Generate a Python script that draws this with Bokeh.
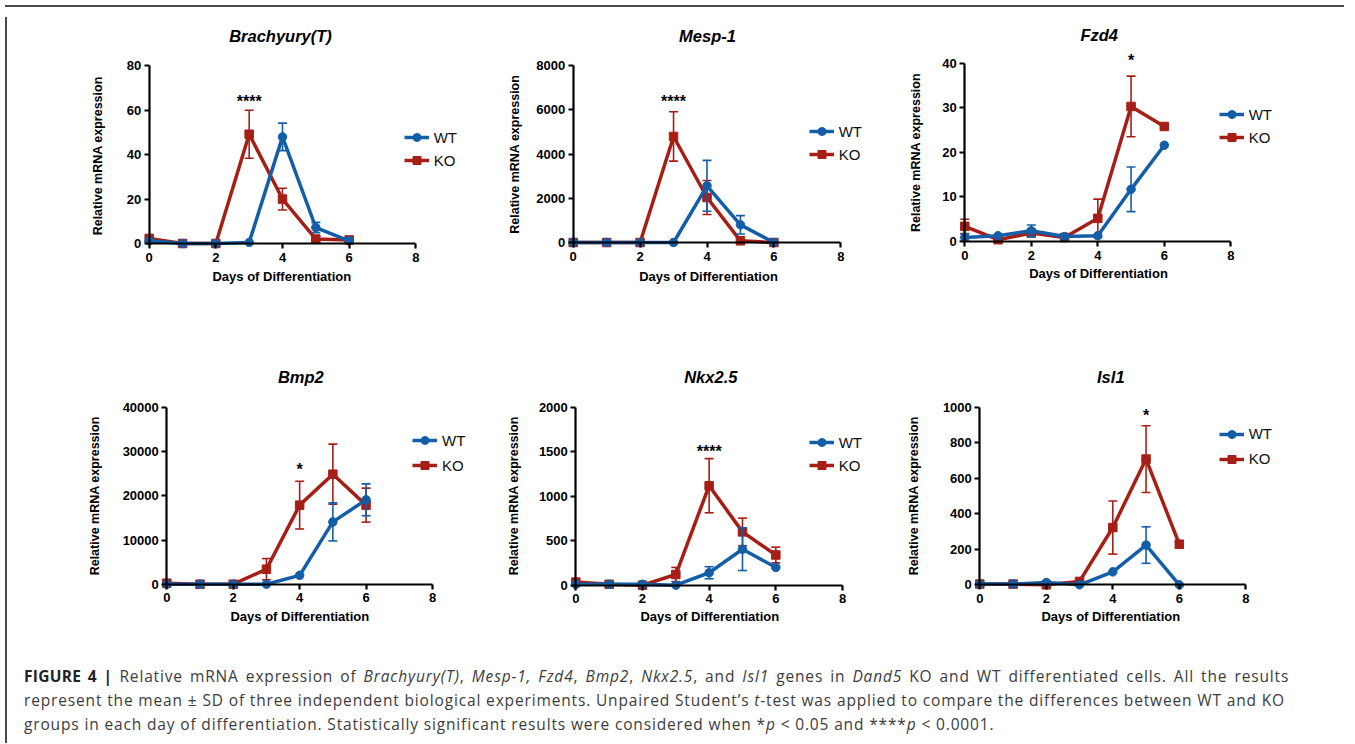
import math
from bokeh.plotting import figure
from bokeh.models import Range1d, FixedTicker, Label, Legend, LegendItem, Div, ColumnDataSource
from bokeh.layouts import row, column
from bokeh.embed import file_html
from bokeh.resources import INLINE

# ---------------- data ----------------
days = [0, 1, 2, 3, 4, 5, 6]
x_ticks = [0, 2, 4, 6, 8]

genes = ["Brachyury(T)", "Mesp-1", "Fzd4", "Bmp2", "Nkx2.5", "Isl1"]
y_max = [80, 8000, 40, 40000, 2000, 1000]
y_step = [20, 2000, 10, 10000, 500, 200]

wt_brachyury = [1.2, 0, 0, 0.5, 48.0, 7.2, 1.2]
wt_brachyury_sd = [0, 0, 0, 0, 6.2, 2.3, 0]
ko_brachyury = [2.3, 0, 0, 49.2, 20.0, 2.0, 1.6]
ko_brachyury_sd = [0, 0, 0, 10.8, 4.9, 0, 0.7]

wt_mesp1 = [0, 0, 0, 0, 2566, 800, 0]
wt_mesp1_sd = [0, 0, 0, 0, 1150, 415, 0]
ko_mesp1 = [0, 0, 0, 4800, 2038, 75, 0]
ko_mesp1_sd = [0, 0, 0, 1117, 770, 0, 0]

wt_fzd4 = [0.9, 1.3, 2.4, 1.1, 1.3, 11.7, 21.6]
wt_fzd4_sd = [0.8, 0, 1.3, 0, 0, 5.0, 0]
ko_fzd4 = [3.4, 0.4, 1.9, 0.9, 5.2, 30.3, 25.8]
ko_fzd4_sd = [1.6, 0, 0.5, 0, 4.3, 6.8, 0]

wt_bmp2 = [0, 0, 0, 0, 2000, 14100, 19100]
wt_bmp2_sd = [0, 0, 0, 0, 0, 4300, 3600]
ko_bmp2 = [230, 0, 0, 3400, 17900, 24900, 17900]
ko_bmp2_sd = [0, 0, 0, 2400, 5400, 6800, 3850]

wt_nkx25 = [10, 10, 10, 0, 140, 405, 200]
wt_nkx25_sd = [0, 0, 0, 0, 68, 240, 0]
ko_nkx25 = [35, 10, 0, 120, 1120, 600, 340]
ko_nkx25_sd = [0, 0, 0, 80, 305, 155, 88]

wt_isl1 = [4, 4, 13, 0, 73, 224, 0]
wt_isl1_sd = [0, 0, 0, 0, 0, 103, 0]
ko_isl1 = [4, 4, 0, 19, 323, 709, 229]
ko_isl1_sd = [0, 0, 0, 0, 150, 188, 0]

star_day = [3, 3, 5, 4, 4, 5]
star_value = [64, 6400, 40.7, 26000, 1510, 953]
star_text = ["****", "****", "*", "*", "****", "*"]

wt_series = [wt_brachyury, wt_mesp1, wt_fzd4, wt_bmp2, wt_nkx25, wt_isl1]
wt_sds = [wt_brachyury_sd, wt_mesp1_sd, wt_fzd4_sd, wt_bmp2_sd, wt_nkx25_sd, wt_isl1_sd]
ko_series = [ko_brachyury, ko_mesp1, ko_fzd4, ko_bmp2, ko_nkx25, ko_isl1]
ko_sds = [ko_brachyury_sd, ko_mesp1_sd, ko_fzd4_sd, ko_bmp2_sd, ko_nkx25_sd, ko_isl1_sd]

x_label = "Days of Differentiation"
y_label = "Relative mRNA expression"

# ---------------- layout (page pixels) ----------------
# figure box: left, top, width, height ; axis pixels: x=0, x=8, y=0, y=max
PANEL_BOX = [
    (10, 10, 490, 310, 146.7, 413.3, 241.0, 63.3),
    (500, 10, 400, 310, 570.7, 838.3, 240.0, 63.3),
    (900, 10, 447, 310, 962.3, 1228.3, 239.0, 60.7),
    (10, 320, 490, 320, 164.3, 430.0, 581.7, 405.0),
    (500, 320, 400, 320, 573.3, 840.0, 582.7, 405.0),
    (900, 320, 447, 320, 977.3, 1243.3, 582.3, 405.0),
]
# title centre, y-label centre, x-label centre, legend line-left, WT row y, KO row y
ANNOT = [
    ((278.0, 37.0), (97.3, 153.3), (279.3, 276.7), 401.7, 135.0, 158.0),
    ((705.0, 37.3), (514.0, 151.7), (706.0, 276.7), 806.7, 129.3, 152.3),
    ((1096.7, 36.7), (915.0, 150.0), (1096.0, 274.0), 1216.7, 111.7, 135.0),
    ((298.3, 378.3), (94.0, 493.3), (297.3, 617.3), 410.0, 438.3, 463.3),
    ((708.3, 378.3), (513.3, 493.3), (707.3, 617.3), 806.7, 440.0, 463.3),
    ((1108.3, 378.3), (913.3, 493.3), (1108.3, 617.3), 1216.7, 431.7, 456.7),
]

WT_COLOR = "#145ea8"
KO_COLOR = "#a61f17"
FONT = "Liberation Sans"


def add_series(p, y, sd, color, marker):
    ex = [d for d, s in zip(days, sd) if s > 0]
    lo = [v - s for v, s in zip(y, sd) if s > 0]
    hi = [v + s for v, s in zip(y, sd) if s > 0]
    if ex:
        src = ColumnDataSource(dict(x=ex, lo=lo, hi=hi))
        p.segment(x0="x", y0="lo", x1="x", y1="hi", source=src, line_color=color, line_width=1.6)
        p.scatter(x="x", y="hi", source=src, marker="dash", size=9, line_color=color, line_width=1.6)
        p.scatter(x="x", y="lo", source=src, marker="dash", size=9, line_color=color, line_width=1.6)
    src = ColumnDataSource(dict(x=days, y=y))
    ln = p.line(x="x", y="y", source=src, line_color=color, line_width=3.5, line_join="round")
    pts = p.scatter(x="x", y="y", source=src, marker=marker, size=8.5, fill_color=color, line_color=color)
    return ln, pts


def make_panel(i):
    L, T, W, H, x0, x8, y0, ytop = PANEL_BOX[i]
    kx = (x8 - x0) / 8.0
    ky = (y0 - ytop) / y_max[i]
    X = lambda px: (px - x0) / kx
    Y = lambda py: (y0 - py) / ky
    p = figure(width=W, height=H,
               x_range=Range1d((L - x0) / kx, (L + W - x0) / kx),
               y_range=Range1d(-(T + H - y0) / ky, (y0 - T) / ky),
               output_backend="svg", toolbar_location=None, title=None,
               min_border=0, min_border_left=0, min_border_right=0,
               min_border_top=0, min_border_bottom=0)
    p.outline_line_color = None
    p.xgrid.visible = False
    p.ygrid.visible = False
    p.background_fill_color = "white"
    p.border_fill_color = "white"

    for ax in (p.xaxis[0], p.yaxis[0]):
        ax.fixed_location = 0
        ax.axis_line_width = 2.2
        ax.axis_line_color = "black"
        ax.major_tick_line_width = 2.2
        ax.major_tick_line_color = "black"
        ax.major_tick_out = 5
        ax.major_tick_in = 0
        ax.minor_tick_out = 0
        ax.minor_tick_in = 0
        ax.major_label_text_font = FONT
        ax.major_label_text_font_style = "bold"
        ax.major_label_text_font_size = "13px"
        ax.major_label_text_color = "black"
    p.xaxis[0].ticker = FixedTicker(ticks=x_ticks)
    p.xaxis[0].bounds = (0, 8)
    p.xaxis[0].major_label_standoff = 4
    yt = [k * y_step[i] for k in range(int(round(y_max[i] / y_step[i])) + 1)]
    p.yaxis[0].ticker = FixedTicker(ticks=yt)
    p.yaxis[0].bounds = (0, y_max[i])
    p.yaxis[0].major_label_standoff = 3

    ko_ln, ko_pts = add_series(p, ko_series[i], ko_sds[i], KO_COLOR, "square")
    wt_ln, wt_pts = add_series(p, wt_series[i], wt_sds[i], WT_COLOR, "circle")

    (tx, ty), (ylx, yly), (xlx, xly), leg_left, wt_y, ko_y = ANNOT[i]
    p.add_layout(Label(x=X(tx), y=Y(ty), text=genes[i], text_font=FONT, y_offset=4,
                       text_font_style="bold italic", text_font_size="16.5px",
                       text_align="center", text_baseline="middle", text_color="black"))
    p.add_layout(Label(x=X(ylx), y=Y(yly), text=y_label, angle=math.pi / 2, text_font=FONT,
                       text_font_style="bold", text_font_size="12.5px", x_offset=-2,
                       text_align="center", text_baseline="middle", text_color="black"))
    p.add_layout(Label(x=X(xlx), y=Y(xly), text=x_label, text_font=FONT, y_offset=3,
                       text_font_style="bold", text_font_size="13px",
                       text_align="center", text_baseline="middle", text_color="black"))
    p.add_layout(Label(x=star_day[i], y=star_value[i], text=star_text[i], text_font=FONT,
                       text_font_style="bold", text_font_size="16px", y_offset=0,
                       text_align="center", text_baseline="middle", text_color="black"))

    gh = 20
    spacing = (ko_y - wt_y) - gh
    leg_h = 2 * gh + spacing
    leg_top = wt_y - gh / 2.0
    legend = Legend(items=[LegendItem(label="WT", renderers=[wt_ln, wt_pts]),
                           LegendItem(label="KO", renderers=[ko_ln, ko_pts])],
                    location=(leg_left - L, (T + H) - (leg_top + leg_h)),
                    glyph_width=25, glyph_height=gh, label_height=gh, spacing=int(round(spacing)),
                    label_standoff=5, padding=0, margin=0,
                    border_line_color=None, background_fill_alpha=0,
                    label_text_font=FONT, label_text_font_size="15px", label_text_color="#111111")
    p.add_layout(legend)
    return p


panels = [make_panel(i) for i in range(6)]

caption_html = (
    '<div style="font-family: \'Open Sans\', sans-serif; font-size: 15.5px; letter-spacing: 0.85px; '
    'line-height: 24px; color: #3c3c3c; padding: 17px 0 0 7px; white-space: nowrap;">'
    '<span style="word-spacing: 2.2px;">'
    '<b style="color:#222; letter-spacing: 0.3px;">FIGURE 4 |</b> Relative mRNA expression of <i>Brachyury(T)</i>, '
    '<i>Mesp-1, Fzd4</i>, <i>Bmp2</i>, <i>Nkx2.5</i>, and <i>Isl1</i> genes in <i>Dand5</i> KO '
    'and WT differentiated cells. All the results</span><br>'
    'represent the mean &plusmn; SD of three independent biological experiments. Unpaired '
    'Student&rsquo;s <i>t</i>-test was applied to compare the differences between WT and KO<br>'
    'groups in each day of differentiation. Statistically significant results were considered '
    'when *<i>p</i> &lt; 0.05 and ****<i>p</i> &lt; 0.0001.</div>'
)
caption = Div(text=caption_html, width=1337, height=96)

top_line = Div(text="", width=1339, height=2, styles={"background-color": "#4a4a4a"})
left_line = Div(text="", width=2, height=726, styles={"background-color": "#4a4a4a"})

content = column(row(panels[0], panels[1], panels[2]),
                 row(panels[3], panels[4], panels[5]),
                 caption)
layout = column(top_line, row(left_line, content))

open("out.html", "w").write(file_html(layout, INLINE))
